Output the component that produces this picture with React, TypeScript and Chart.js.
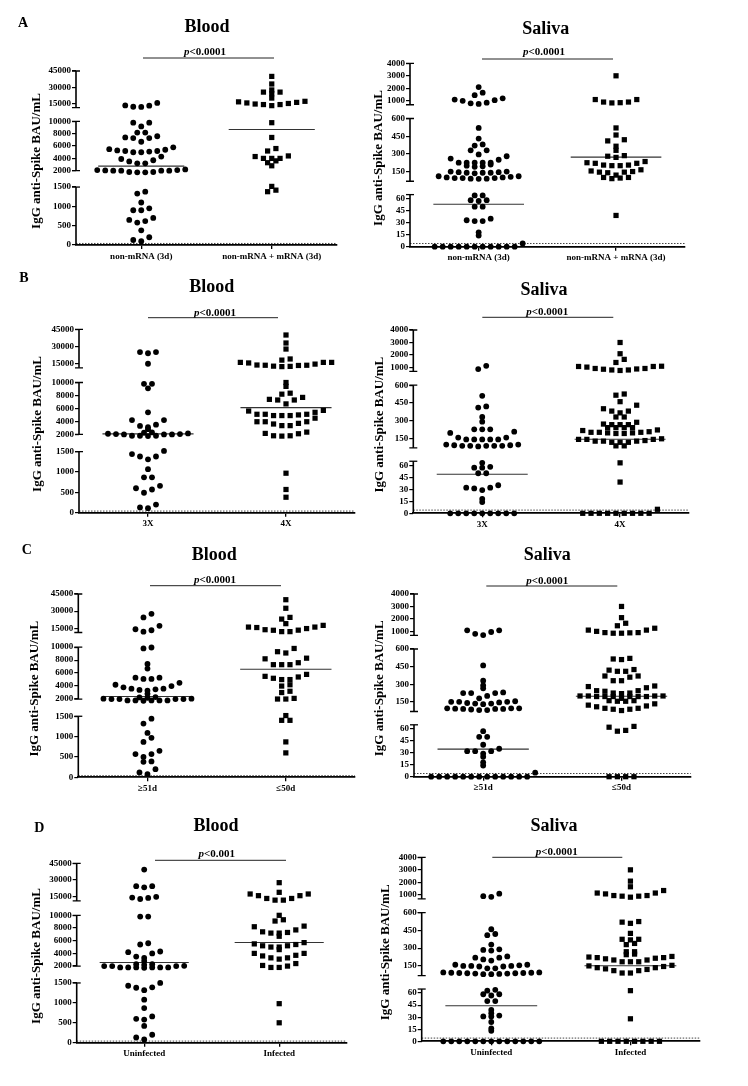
import React, { useEffect, useRef } from "react";
import { Chart, registerables } from "chart.js";

Chart.register(...registerables);

const SERIF = "'Liberation Serif', 'Times New Roman', 'DejaVu Serif', serif";

// ---------------- text ----------------
const PANEL_LETTERS = ["A", "B", "C", "D"];
const TISSUE_TITLES = ["Blood", "Saliva"];
const Y_AXIS_TITLE = "IgG anti-Spike BAU/mL";
const CATEGORIES_A = ["non-mRNA (3d)", "non-mRNA + mRNA (3d)"];
const CATEGORIES_B = ["3X", "4X"];
const CATEGORIES_C = ["\u226551d", "\u226450d"];
const CATEGORIES_D = ["Uninfected", "Infected"];
const P_VALUES_BLOOD = ["<0.0001", "<0.0001", "<0.0001", "<0.001"];
const P_VALUES_SALIVA = ["<0.0001", "<0.0001", "<0.0001", "<0.0001"];

// ---------------- axes ----------------
const BLOOD_TICKS = [0, 500, 1000, 1500, 2000, 4000, 6000, 8000, 10000, 15000, 30000, 45000];
const SALIVA_TICKS = [0, 15, 30, 45, 60, 150, 300, 450, 600, 1000, 2000, 3000, 4000];
const BLOOD_SEGMENTS = [[0, 1500], [2000, 10000], [11250, 45000]];
const SALIVA_SEGMENTS = [[0, 65], [68, 600], [684, 4000]];
const BLOOD_LOD = 40;
const SALIVA_LOD = 4;

// ---------------- medians ----------------
const MEDIANS_BLOOD = [[2750, 8700], [2080, 6130], [2400, 6600], [2575, 5710]];
const MEDIANS_SALIVA = [[53, 272], [48.8, 141], [34.6, 198], [44.2, 152]];

// ---------------- data (rows of similar values, BAU/mL) ----------------
const A_BLOOD_NON_MRNA = [
  [15500, 13000, 11800, 12000, 13200],
  [9800, 9800, 9200],
  [8200, 8200],
  [7400, 7300, 7300, 6700, 7600],
  [5800, 5500, 5300, 5200, 5100, 5000, 5000, 5200, 5400],
  [4300, 3700, 3200, 3200, 3500, 3900],
  [2200, 2100, 2000, 1960, 2000, 1950, 1960, 2050, 2000, 1950, 2100, 2000],
  [1380, 1330],
  [1100],
  [950, 900, 900],
  [700, 650, 620, 580],
  [380],
  [200, 130, 100],
];
const A_BLOOD_MIXED = [
  [40000],
  [33000],
  [27500],
  [25500, 24000, 25500],
  [20000],
  [17000, 16000, 15000, 14000, 13000, 14000, 14500, 15500, 16500],
  [9800],
  [7400],
  [5600, 5200],
  [4000, 4300, 4400, 4000, 4000],
  [3600, 3300],
  [2800],
  [1520],
  [1380, 1420],
];
const A_SALIVA_NON_MRNA = [
  [2100],
  [1450, 1650],
  [1100, 1000, 800, 750, 850, 1050, 1200],
  [520],
  [430],
  [380, 370],
  [330, 330, 295],
  [280, 250, 225, 225, 225, 225, 225, 260],
  [210, 190, 195, 200],
  [150, 140, 145, 135, 140, 150, 145, 140],
  [110, 100, 95, 95, 90, 88, 90, 95, 100, 105, 110],
  [64, 64],
  [58, 58, 57],
  [50, 50],
  [33, 32, 32, 35],
  [18],
  [14],
  [0, 0, 0, 0, 0, 0, 0, 0, 0, 0, 0, 4],
];
const A_SALIVA_MIXED = [
  [3000],
  [1100, 900, 850, 830, 900, 1100],
  [520],
  [460],
  [410, 365, 420],
  [330],
  [280, 270, 285],
  [205, 200, 235, 220, 220, 225, 200, 205],
  [140, 165, 150, 145, 145, 155, 120],
  [100, 95, 90, 100],
  [39],
];
const B_BLOOD_3X = [
  [25000, 24000, 25000],
  [14800],
  [9800, 9800],
  [9100],
  [5400],
  [4200, 3500, 3100, 3300, 4200],
  [2800],
  [2150, 2000, 1960, 1960, 2000, 2050, 1950, 2000, 2100, 1960, 2050],
  [2250, 2300],
  [1520, 1380, 1380, 1310, 1440],
  [1070],
  [870, 870],
  [660, 570, 490, 600],
  [200, 110, 130],
];
const B_BLOOD_4X = [
  [40000],
  [33000],
  [27700],
  [18000, 19000],
  [16000, 16000, 13500, 13500, 12700, 12500, 12300, 13300, 13700, 14500, 15500, 16000],
  [10000],
  [9400],
  [8200, 8350],
  [7700, 7400, 6700, 7300, 7300],
  [5600, 5100, 5100, 4900, 4900, 4900, 5000, 5100, 5400, 5700],
  [4500, 3950, 3700, 3350, 3350, 3600, 3950, 3950],
  [2100, 1960, 1950, 1960, 2150, 2350],
  [970],
  [570],
  [380],
];
const B_SALIVA_3X = [
  [1130, 870],
  [510],
  [420, 410],
  [330],
  [290],
  [225, 225, 225],
  [195, 155, 140, 140, 140, 140, 140, 155, 205],
  [96, 90, 85, 85, 80, 85, 85, 85, 90, 96],
  [63],
  [57, 57, 58],
  [50, 50],
  [35, 32, 29, 31, 32],
  [18],
  [14],
  [0, 0, 0, 0, 0, 0, 0, 0, 0],
];
const B_SALIVA_4X = [
  [3000],
  [2100],
  [1650, 1400],
  [1080, 920, 880, 800, 1100, 760, 800, 860, 920, 1030, 1080],
  [515, 525],
  [460],
  [430, 400, 380, 380, 365],
  [330, 330],
  [270, 265, 265, 265, 285],
  [240, 240, 240, 240],
  [215, 200, 200, 190, 195, 195, 190, 200, 205, 220],
  [145, 125, 125, 115, 140, 140, 115, 115, 125, 130, 140],
  [85, 85],
  [63],
  [39],
  [0, 0, 0, 0, 0, 0, 0, 0, 0, 5],
];
const C_BLOOD_51D = [
  [27600, 24500],
  [17100, 14100, 12000, 13200],
  [9950, 9800],
  [7400],
  [6700],
  [5300, 5100, 5100, 5300],
  [4500, 4000, 3600, 3500, 3300, 3400, 3600, 3800, 4200],
  [2800],
  [2050, 2000, 1960, 1960, 2000, 1960, 1950, 1960, 2000, 2050, 2000, 1960],
  [2250, 2300, 2200],
  [1440, 1320],
  [1090],
  [970, 870],
  [650, 570, 570, 500],
  [390, 380],
  [200, 120, 80],
];
const C_BLOOD_50D = [
  [40000],
  [32500],
  [23000, 24500],
  [19000],
  [16000, 16000, 13700, 13200, 12000, 12000, 13300, 14700, 15600, 17500],
  [9800, 9300, 9100],
  [8200, 8300, 7600, 7300, 7300, 7300],
  [5800, 5400, 5000, 5000, 5200, 5500],
  [4200, 4000],
  [3200, 3000],
  [2000, 2000, 2100],
  [1520],
  [1400, 1400],
  [870],
  [600],
];
const C_SALIVA_51D = [
  [1080, 950, 700, 800, 1080],
  [460],
  [330],
  [290],
  [265],
  [200, 230, 225, 225, 225, 180],
  [150, 155, 135, 150, 130, 145, 135, 150, 140],
  [95, 95, 90, 90, 80, 80, 85, 90, 92, 95],
  [57],
  [50, 50],
  [40],
  [32, 32, 35, 29, 32],
  [25],
  [18],
  [14],
  [0, 0, 0, 0, 0, 0, 0, 0, 0, 0, 0, 0, 0, 5],
];
const C_SALIVA_50D = [
  [3000],
  [2100],
  [1650, 1450],
  [1250, 1100, 900, 880, 850, 850, 900, 1000, 1100],
  [515, 510, 520],
  [420, 410, 410, 425],
  [370, 330, 330, 360, 370],
  [285, 270, 240, 220, 225, 225, 245, 245, 280],
  [200, 195, 195, 180, 195, 195, 195, 195, 200, 200, 200],
  [160, 155, 155, 160],
  [133, 115, 95, 87, 76, 87, 95, 108, 122],
  [63, 58, 57, 62],
  [0, 0, 0, 0],
];
const D_BLOOD_UNINFECTED = [
  [39400],
  [24500, 23500, 24500],
  [15000, 14000, 13000, 14300],
  [9800, 9800],
  [5600, 5400],
  [4300, 4000, 3300, 3500, 4200],
  [2800],
  [2000, 1960, 1960, 2000, 1960, 1950, 1960, 2000, 1960, 1960, 2050],
  [2300, 2200, 2300],
  [1500, 1390, 1320, 1380, 1430],
  [1080],
  [870],
  [660, 580, 600],
  [420],
  [200, 130, 80],
];
const D_BLOOD_INFECTED = [
  [27650],
  [19000],
  [17500, 16000, 13500, 12000, 12000, 13500, 16000, 17500],
  [10000],
  [9300, 9100],
  [8300, 7700, 7300, 7200, 7200, 7400, 8200],
  [6700],
  [5500, 5200, 5000, 5700, 5000, 5200, 5400],
  [4600],
  [4000, 3600, 3300, 3100, 3300, 3700, 4000],
  [2400, 2000, 1960, 1960, 2100],
  [980],
  [500],
];
const D_SALIVA_UNINFECTED = [
  [900, 850, 1100],
  [460],
  [410, 420],
  [330],
  [285, 290, 280],
  [195, 230, 220, 220, 205],
  [160, 145, 145, 130, 150, 150, 150, 155, 160, 130],
  [95, 92, 90, 88, 85, 80, 80, 82, 85, 88, 90, 92, 95],
  [64, 63],
  [58.5, 57, 58.5],
  [50, 50],
  [39],
  [35],
  [31, 31, 32],
  [24],
  [16],
  [13],
  [0, 0, 0, 0, 0, 0, 0, 0, 0, 0, 0, 0, 0],
];
const D_SALIVA_INFECTED = [
  [3000],
  [2100],
  [1650],
  [1350, 1150, 950, 900, 820, 900, 950, 1080, 1150],
  [520, 510, 525],
  [425],
  [375, 370, 375],
  [340, 330],
  [270, 270],
  [250, 245],
  [230, 220, 215, 200, 185, 185, 185, 200, 210, 220, 225],
  [150, 135, 125, 110, 90, 90, 110, 120, 135, 145, 155],
  [63],
  [28],
  [0, 0, 0, 0, 0, 0, 0, 0],
];

// ---------------- layout (positions / sizes only) ----------------
const BLOOD_SEG_SPAN = [[0, 333], [427, 710], [790, 1000]];
const SALIVA_SEG_SPAN = [[0, 284], [357, 699], [774, 1000]];
const ROW_BANDS = [[0, 266], [266, 270], [536, 270], [806, 280]];
const COL_BANDS = [[0, 374], [364, 384]];
// [axisLeft, axisRight, axisTop, axisBottom] in page pixels
const GEOMETRY = [
  [[76, 337, 71, 245], [410, 684.7, 63.3, 246.7]],
  [[79, 355, 329.3, 512.7], [413.3, 689, 330, 513.3]],
  [[78.3, 355, 594, 777.3], [414, 690.7, 594, 776.7]],
  [[76.7, 346.7, 863.3, 1042.7], [421.7, 700, 857.3, 1041.3]],
];
const DECOR = [
  [
    { letter: [23, 23], title: [207, 27], p: [205, 52], pLine: [143, 274, 58], yTitleX: 37 },
    { title: [545.7, 29], p: [544, 52], pLine: [482, 613, 59], yTitleX: 379 },
  ],
  [
    { letter: [24, 278], title: [211.7, 287.7], p: [215, 312.7], pLine: [148, 278, 317.7], yTitleX: 37.3 },
    { title: [544, 290.7], p: [547.3, 311.7], pLine: [482.3, 613.3, 317.3], yTitleX: 380 },
  ],
  [
    { letter: [26.7, 550], title: [214.3, 555.7], p: [215, 580], pLine: [150, 281, 585.7], yTitleX: 35 },
    { title: [547.3, 555.7], p: [547.3, 580.7], pLine: [486.3, 617.3, 586], yTitleX: 380 },
  ],
  [
    { letter: [39.3, 828.3], title: [216, 826.7], p: [216.7, 854], pLine: [155, 286, 860.3], yTitleX: 36.7 },
    { title: [554, 826.7], p: [556.7, 851.7], pLine: [492.3, 622.3, 857.3], yTitleX: 385.7 },
  ],
];

const CATEGORY_SETS = [CATEGORIES_A, CATEGORIES_B, CATEGORIES_C, CATEGORIES_D];
const GROUPS = [
  [[A_BLOOD_NON_MRNA, A_BLOOD_MIXED], [A_SALIVA_NON_MRNA, A_SALIVA_MIXED]],
  [[B_BLOOD_3X, B_BLOOD_4X], [B_SALIVA_3X, B_SALIVA_4X]],
  [[C_BLOOD_51D, C_BLOOD_50D], [C_SALIVA_51D, C_SALIVA_50D]],
  [[D_BLOOD_UNINFECTED, D_BLOOD_INFECTED], [D_SALIVA_UNINFECTED, D_SALIVA_INFECTED]],
];

function mapValue(v: number, segs: number[][], spans: number[][]): number {
  const pts: number[][] = [];
  segs.forEach((s, i) => {
    pts.push([s[0], spans[i][0]]);
    pts.push([s[1], spans[i][1]]);
  });
  if (v <= pts[0][0]) return pts[0][1];
  for (let i = 0; i < pts.length - 1; i++) {
    const [v0, u0] = pts[i];
    const [v1, u1] = pts[i + 1];
    if (v <= v1) return u0 + ((v - v0) / (v1 - v0)) * (u1 - u0);
  }
  const [va, ua] = pts[pts.length - 2];
  const [vb, ub] = pts[pts.length - 1];
  return ub + ((v - vb) / (vb - va)) * (ub - ua);
}

function layoutRows(rows: number[][], cat: number, stepX: number, toU: (v: number) => number) {
  const out: { x: number; y: number }[] = [];
  rows.forEach((row) => {
    const vals = [...row].sort((a, b) => a - b);
    const n = vals.length;
    const slots = Array.from({ length: n }, (_, j) => j - (n - 1) / 2);
    const order = slots.slice().sort((a, b) => Math.abs(a) - Math.abs(b) || a - b);
    vals.forEach((v, i) => out.push({ x: cat + order[i] * stepX, y: toU(v) }));
  });
  return out;
}

type PanelDef = {
  r: number;
  t: number;
  cx: number;
  cy: number;
  cw: number;
  ch: number;
};

const PANELS: PanelDef[] = [];
for (let r = 0; r < 4; r++) {
  for (let t = 0; t < 2; t++) {
    PANELS.push({ r, t, cx: COL_BANDS[t][0], cy: ROW_BANDS[r][0], cw: COL_BANDS[t][1], ch: ROW_BANDS[r][1] });
  }
}

function buildConfig(def: PanelDef): any {
  const { r, t, cx, cy, cw, ch } = def;
  const [axL, axR, yTop, y0] = GEOMETRY[r][t];
  const decor: any = DECOR[r][t];
  const segs = t === 0 ? BLOOD_SEGMENTS : SALIVA_SEGMENTS;
  const spans = t === 0 ? BLOOD_SEG_SPAN : SALIVA_SEG_SPAN;
  const tickVals = t === 0 ? BLOOD_TICKS : SALIVA_TICKS;
  const lod = t === 0 ? BLOOD_LOD : SALIVA_LOD;
  const medians = t === 0 ? MEDIANS_BLOOD[r] : MEDIANS_SALIVA[r];
  const pText = t === 0 ? P_VALUES_BLOOD[r] : P_VALUES_SALIVA[r];
  const cats = CATEGORY_SETS[r];
  const groups = GROUPS[r][t];
  const toU = (v: number) => mapValue(v, segs, spans);
  const halfSpan = (axR - axL) / 2;
  const font = { family: SERIF, size: 9, weight: "bold" as const };

  const decorPlugin = {
    id: "decor" + r + t,
    afterDraw(chart: any) {
      const { ctx, chartArea, scales } = chart;
      const ys = scales.y;
      const x = chartArea.left;
      ctx.save();
      ctx.strokeStyle = "#000";
      ctx.fillStyle = "#000";
      spans.forEach((sp, i) => {
        const yb = i === 0 ? chartArea.bottom : ys.getPixelForValue(sp[0]);
        const yt = ys.getPixelForValue(sp[1]);
        ctx.lineWidth = 1.6;
        ctx.beginPath();
        ctx.moveTo(x, yb);
        ctx.lineTo(x, yt);
        ctx.stroke();
        ctx.lineWidth = 1.3;
        ctx.beginPath();
        ctx.moveTo(x - 4, yt);
        ctx.lineTo(x + 4, yt);
        if (i > 0) {
          ctx.moveTo(x - 4, yb);
          ctx.lineTo(x + 4, yb);
        }
        ctx.stroke();
      });
      // y title
      ctx.save();
      ctx.translate(decor.yTitleX - cx, (yTop + y0) / 2 + 3 - cy);
      ctx.rotate(-Math.PI / 2);
      ctx.font = `bold 13px ${SERIF}`;
      ctx.textAlign = "center";
      ctx.textBaseline = "middle";
      ctx.fillText(Y_AXIS_TITLE, 0, 0);
      ctx.restore();
      // panel letter
      ctx.textBaseline = "middle";
      if (decor.letter) {
        ctx.font = `bold 14px ${SERIF}`;
        ctx.textAlign = "center";
        ctx.fillText(PANEL_LETTERS[r], decor.letter[0] - cx, decor.letter[1] - cy);
      }
      // title
      ctx.font = `bold 18px ${SERIF}`;
      ctx.textAlign = "center";
      ctx.fillText(TISSUE_TITLES[t], decor.title[0] - cx, decor.title[1] - cy);
      // p value
      ctx.textAlign = "left";
      ctx.font = `italic bold 11px ${SERIF}`;
      const w1 = ctx.measureText("p").width;
      ctx.font = `bold 11px ${SERIF}`;
      const w2 = ctx.measureText(pText).width;
      const sx = decor.p[0] - cx - (w1 + w2) / 2;
      ctx.font = `italic bold 11px ${SERIF}`;
      ctx.fillText("p", sx, decor.p[1] - cy);
      ctx.font = `bold 11px ${SERIF}`;
      ctx.fillText(pText, sx + w1, decor.p[1] - cy);
      ctx.lineWidth = 1;
      ctx.strokeStyle = "#222";
      ctx.beginPath();
      ctx.moveTo(decor.pLine[0] - cx, decor.pLine[2] - cy);
      ctx.lineTo(decor.pLine[1] - cx, decor.pLine[2] - cy);
      ctx.stroke();
      ctx.restore();
    },
  };

  const line = (data: any[], extra: any) => ({
    type: "scatter",
    showLine: true,
    data,
    pointRadius: 0,
    borderWidth: 1,
    clip: false,
    ...extra,
  });

  return {
    type: "scatter",
    data: {
      datasets: [
        {
          data: layoutRows(groups[0], 0, 8.0 / halfSpan, toU),
          pointStyle: "circle",
          pointRadius: 2.9,
          backgroundColor: "#000",
          borderColor: "#000",
          borderWidth: 0,
          clip: false,
        },
        {
          data: layoutRows(groups[1], 1, 8.3 / halfSpan, toU),
          pointStyle: "rect",
          pointRadius: 3.7,
          backgroundColor: "#000",
          borderColor: "#000",
          borderWidth: 0,
          clip: false,
        },
        line(
          [
            { x: -0.33, y: toU(medians[0]) },
            { x: 0.33, y: toU(medians[0]) },
          ],
          { borderColor: "#333", borderWidth: 1.1 }
        ),
        line(
          [
            { x: 0.67, y: toU(medians[1]) },
            { x: 1.33, y: toU(medians[1]) },
          ],
          { borderColor: "#333", borderWidth: 1.1 }
        ),
        line(
          [
            { x: -0.5, y: toU(lod) },
            { x: 1.5, y: toU(lod) },
          ],
          { borderColor: "#444", borderDash: [1.5, 1.5] }
        ),
      ],
    },
    options: {
      responsive: false,
      maintainAspectRatio: false,
      animation: false,
      events: [],
      layout: { padding: { left: 0, top: yTop - cy, right: cx + cw - axR, bottom: 0 } },
      plugins: {
        legend: { display: false },
        tooltip: { enabled: false },
        title: { display: false },
      },
      scales: {
        x: {
          type: "linear",
          position: "bottom",
          min: -0.5,
          max: 1.5,
          afterFit: (s: any) => {
            s.height = cy + ch - y0;
          },
          afterBuildTicks: (s: any) => {
            s.ticks = [{ value: 0 }, { value: 1 }];
          },
          ticks: {
            autoSkip: false,
            maxRotation: 0,
            minRotation: 0,
            padding: 2,
            color: "#000",
            font,
            callback: (_v: any, i: number) => cats[i],
          },
          grid: {
            display: true,
            drawOnChartArea: false,
            drawTicks: true,
            tickLength: 4,
            color: "#000",
            lineWidth: 1.3,
          },
          border: { display: true, color: "#000", width: 1.8 },
        },
        y: {
          type: "linear",
          position: "left",
          min: 0,
          max: 1000,
          afterFit: (s: any) => {
            s.width = axL - cx;
          },
          afterBuildTicks: (s: any) => {
            s.ticks = tickVals.map((v) => ({ value: toU(v) }));
          },
          ticks: {
            autoSkip: false,
            padding: 1,
            color: "#000",
            font,
            callback: (_v: any, i: number) => String(tickVals[i]),
          },
          grid: {
            display: true,
            drawOnChartArea: false,
            drawTicks: true,
            tickLength: 4,
            color: "#000",
            lineWidth: 1.2,
          },
          border: { display: false },
        },
      },
    },
    plugins: [decorPlugin],
  };
}

function Panel({ def }: { def: PanelDef }) {
  const ref = useRef<HTMLCanvasElement | null>(null);
  useEffect(() => {
    if (!ref.current) return;
    const chart = new Chart(ref.current, buildConfig(def));
    return () => chart.destroy();
  }, [def]);
  return (
    <canvas
      ref={ref}
      width={def.cw}
      height={def.ch}
      style={{ position: "absolute", left: def.cx, top: def.cy, width: def.cw, height: def.ch }}
    />
  );
}

export default function App() {
  return (
    <div
      style={{
        position: "absolute",
        left: 0,
        top: 0,
        width: 748,
        height: 1086,
        background: "#fff",
        overflow: "hidden",
      }}
    >
      {PANELS.map((p) => (
        <Panel key={`${p.r}-${p.t}`} def={p} />
      ))}
    </div>
  );
}
